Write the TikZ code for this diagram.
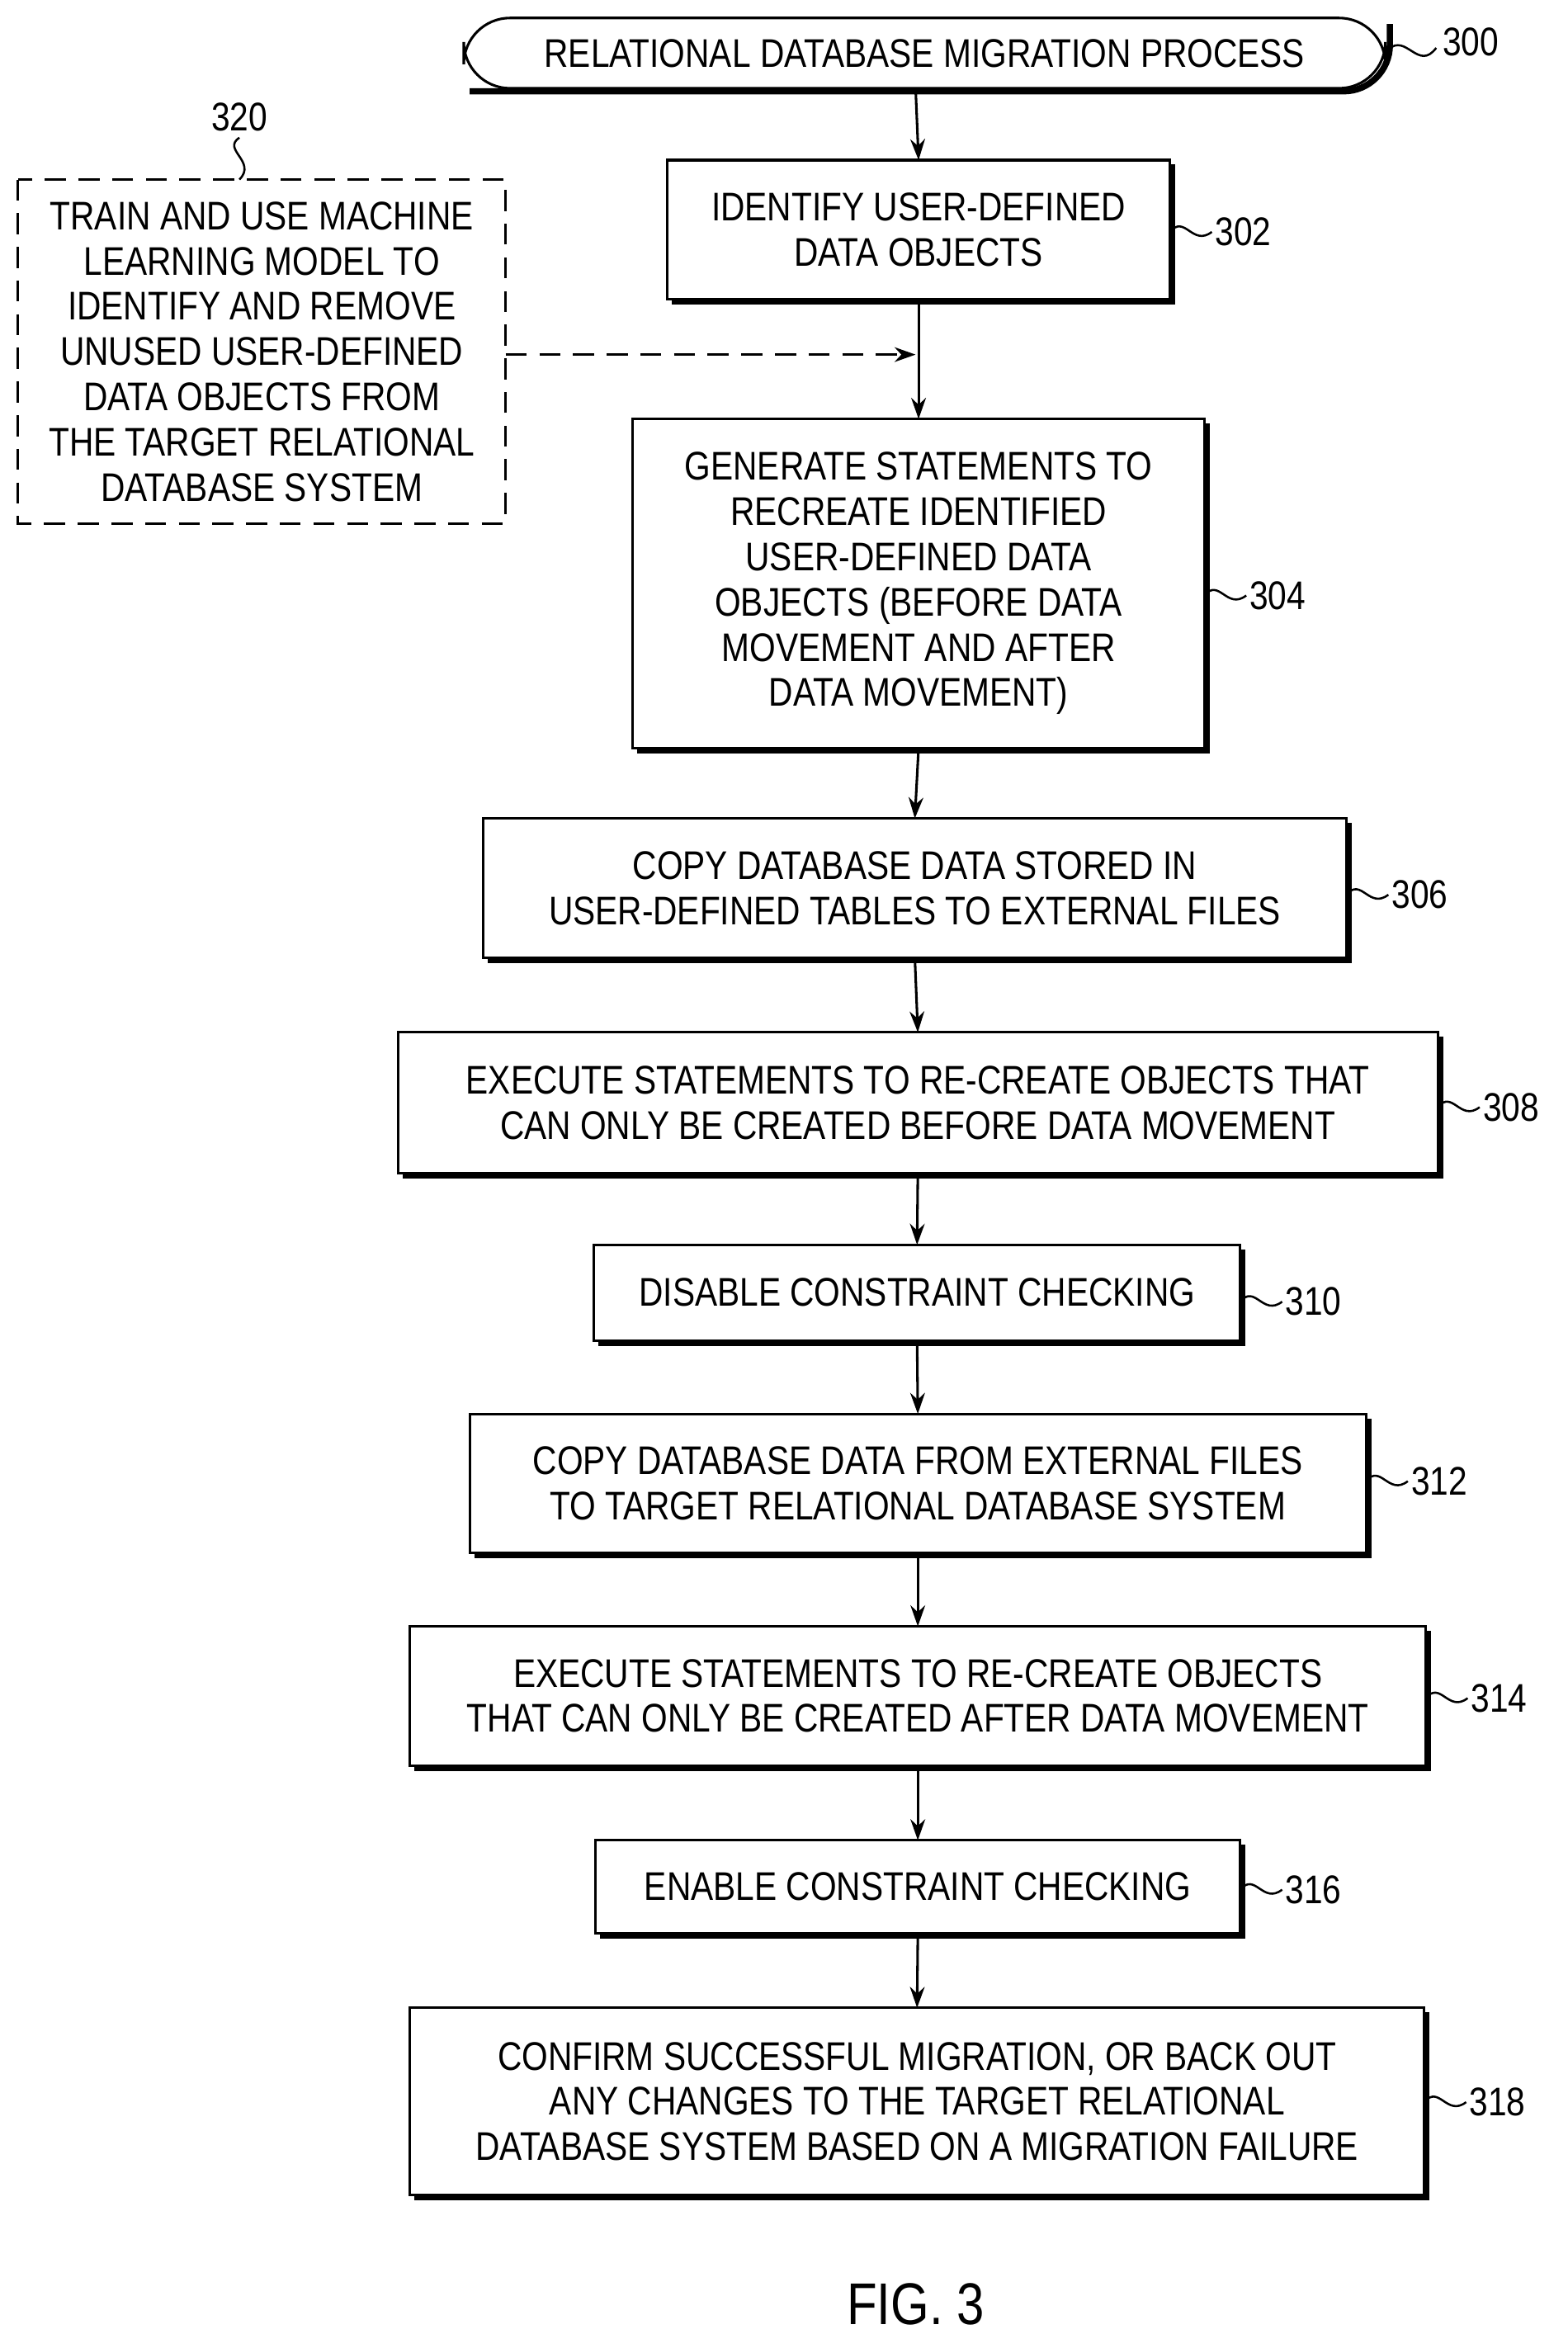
\documentclass[tikz,border=0pt]{standalone}
\usepackage{fontspec}
\setmainfont[FakeStretch=0.84]{Liberation Sans}
\usetikzlibrary{arrows.meta}
\begin{document}
\begin{tikzpicture}[x=0.025cm,y=-0.025cm,
  txt/.style={font=\fontsize{19}{21.5}\selectfont,align=center},
  box/.style={draw,line width=1.2pt},
  shad/.style={line width=3pt},
  arr/.style={-{Stealth[length=10pt,width=7pt]},line width=1.2pt},
  lbl/.style={font=\fontsize{19}{21}\selectfont,anchor=west,inner sep=0pt},
  lead/.style={line width=1pt}]
\useasboundingbox (0,0) rectangle (1048,1560);
\newcommand{\bx}[6]{% name x1 y1 x2 y2 text
  \draw[shad] (#2+3,#5+1.5) -- (#4+1.5,#5+1.5) -- (#4+1.5,#3+3);
  \draw[box] (#2,#3) rectangle (#4,#5);
  \node[txt] (#1) at ({(#2+#4)/2},{(#3+#5)/2}) {#6};
  \coordinate (#1t) at ({(#2+#4)/2},#3);
  \coordinate (#1b) at ({(#2+#4)/2},#5);
  \coordinate (#1r) at (#4,{(#3+#5)/2});}
\newcommand{\ld}[4]{% from-x y to-x label
  \draw[lead] (#1,#2) .. controls (#1+10,#2-12) and (#1+15,#2+10) .. (#1+28,#2);
  \node[lbl] at (#1+30,#2) {#4};}
% title
\draw[shad,rounded corners=22pt] (314,61) -- (929,61) -- (929,16);
\draw[box,rounded corners=22pt] (310,12) rectangle (926,59);
\node[txt] (t) at (618,36) {RELATIONAL DATABASE MIGRATION PROCESS};
\coordinate (tb) at (612,59);
\draw[lead] (928,33) .. controls (940,22) and (948,48) .. (960,32);
\node[lbl] at (964,28) {300};
\bx{a}{446}{107}{782}{200}{IDENTIFY USER-DEFINED\\DATA OBJECTS}
\ld{782}{155}{}{302}
\bx{b}{423}{280}{805}{500}{GENERATE STATEMENTS TO\\RECREATE IDENTIFIED\\USER-DEFINED DATA\\OBJECTS (BEFORE DATA\\MOVEMENT AND AFTER\\DATA MOVEMENT)}
\ld{805}{398}{}{304}
\bx{c}{323}{547}{900}{640}{COPY DATABASE DATA STORED IN\\USER-DEFINED TABLES TO EXTERNAL FILES}
\ld{900}{598}{}{306}
\bx{d}{266}{690}{961}{784}{EXECUTE STATEMENTS TO RE-CREATE OBJECTS THAT\\CAN ONLY BE CREATED BEFORE DATA MOVEMENT}
\ld{961}{740}{}{308}
\bx{e}{397}{832}{829}{896}{DISABLE CONSTRAINT CHECKING}
\ld{829}{870}{}{310}
\bx{f}{314}{945}{913}{1038}{COPY DATABASE DATA FROM EXTERNAL FILES\\TO TARGET RELATIONAL DATABASE SYSTEM}
\ld{913}{990}{}{312}
\bx{g}{274}{1087}{953}{1180}{EXECUTE STATEMENTS TO RE-CREATE OBJECTS\\THAT CAN ONLY BE CREATED AFTER DATA MOVEMENT}
\ld{953}{1135}{}{314}
\bx{h}{398}{1230}{829}{1292}{ENABLE CONSTRAINT CHECKING}
\ld{829}{1263}{}{316}
\bx{i}{274}{1342}{952}{1467}{CONFIRM SUCCESSFUL MIGRATION, OR BACK OUT\\ANY CHANGES TO THE TARGET RELATIONAL\\DATABASE SYSTEM BASED ON A MIGRATION FAILURE}
\ld{952}{1405}{}{318}
% arrows
\draw[arr] (tb) -- (at);
\draw[arr] (ab) -- (bt);
\draw[arr] (bb) -- (ct);
\draw[arr] (cb) -- (dt);
\draw[arr] (db) -- (et);
\draw[arr] (eb) -- (ft);
\draw[arr] (fb) -- (gt);
\draw[arr] (gb) -- (ht);
\draw[arr] (hb) -- (it);
% dashed box 320
\draw[line width=1.2pt,dash pattern=on 10pt off 6pt] (12,120) rectangle (338,350);
\node[txt] (ml) at (175,235) {TRAIN AND USE MACHINE\\LEARNING MODEL TO\\IDENTIFY AND REMOVE\\UNUSED USER-DEFINED\\DATA OBJECTS FROM\\THE TARGET RELATIONAL\\DATABASE SYSTEM};
\coordinate (mlr) at (338,237);
\coordinate (join) at (612,237);
\draw[arr,dash pattern=on 10pt off 6pt] (mlr) -- (join);
\node[lbl,anchor=south] at (160,88) {320};
\draw[lead] (160,92) .. controls (148,100) and (172,108) .. (160,120);
\node[font=\fontsize{28}{30}\selectfont] at (612,1540) {FIG. 3};
\end{tikzpicture}
\end{document}
